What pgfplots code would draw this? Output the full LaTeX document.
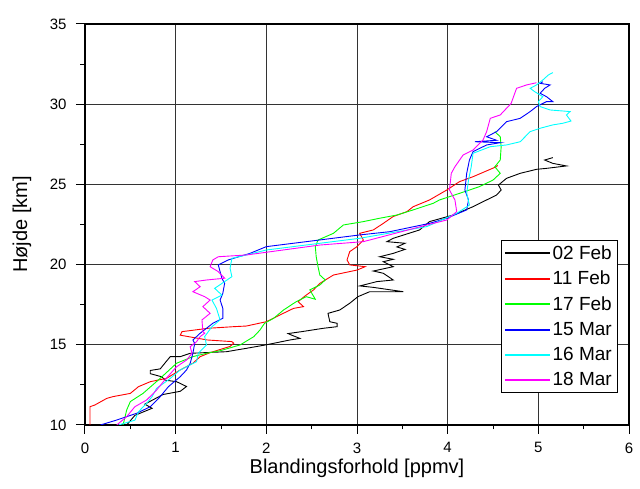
\documentclass[border=0pt]{standalone}
\usepackage{pgfplots}
\pgfplotsset{compat=1.18}
\usepackage{fontspec}
\setmainfont{Liberation Sans}
\definecolor{cblack}{RGB}{0,0,0}
\definecolor{cred}{RGB}{255,0,0}
\definecolor{cgreen}{RGB}{0,255,0}
\definecolor{cblue}{RGB}{0,0,255}
\definecolor{ccyan}{RGB}{0,255,255}
\definecolor{cmag}{RGB}{255,0,255}
\begin{document}
\begin{tikzpicture}
\useasboundingbox (-85pt,-64pt) rectangle (555pt,425pt);
\begin{axis}[
 scale only axis, width=544pt, height=401pt,
 at={(0pt,0pt)}, anchor=south west,
 xmin=0, xmax=6, ymin=10, ymax=35,
 xtick={0,1,2,3,4,5,6}, ytick={10,15,20,25,30,35},
 minor x tick num=1, minor y tick num=1,
 tick pos=left, tick align=outside,
 major tick length=9pt, minor tick length=4.5pt,
 every tick/.style={black, line width=1pt},
 grid=major, major grid style={line width=1pt, color=black!80},
 axis line style={line width=1.4pt},
 ticklabel style={font=\fontsize{15}{18}\selectfont},
 /pgf/number format/assume math mode=true,
 xticklabel shift=5pt, yticklabel shift=6pt,
 xlabel={Blandingsforhold [ppmv]}, ylabel={Højde [km]},
 label style={font=\fontsize{20}{24}\selectfont},
 xlabel style={at={(axis description cs:0.5,-0.108)}, anchor=center},
 ylabel style={at={(axis description cs:-0.116,0.5)}, anchor=center},
 legend style={at={(0.978,0.461)}, anchor=north east, draw=black,
   font=\fontsize{19}{22}\selectfont, row sep=6.4pt, nodes={inner sep=2pt}, inner sep=3pt},
 legend cell align=left,
 legend image code/.code={\draw[mark repeat=2,mark phase=2,#1] plot coordinates {(0pt,0pt) (22pt,0pt) (45pt,0pt)};},
 legend image post style={line width=1.8pt},
 every axis plot/.append style={line width=0.9pt},
]
\addplot[cblack] coordinates {
(0.46,10.0) (0.55,10.6) (0.74,11.04) (0.66,11.3) (0.86,11.9) (1.05,12.1) (1.12,12.4) (1.01,12.7) (0.88,12.8) (0.85,13.0) (0.72,13.2) (0.72,13.4) (0.83,13.5) (0.88,13.85) (0.94,14.26) (1.05,14.26) (1.16,14.47) (1.56,14.57) (1.78,14.78) (2.0,15.0) (2.26,15.3) (2.37,15.4) (2.28,15.6) (2.24,15.7) (2.39,15.82) (2.63,16.03) (2.78,16.13) (2.78,16.34) (2.70,16.44) (2.68,16.96) (2.81,17.17) (2.92,17.59) (3.01,18.0) (3.14,18.31) (3.51,18.31) (3.18,18.58) (3.03,18.67) (3.22,18.94) (3.40,19.04) (3.29,19.46) (3.18,19.60) (3.40,19.87) (3.29,20.18) (3.40,20.33) (3.25,20.49) (3.40,20.7) (3.53,20.95) (3.44,21.1) (3.53,21.33) (3.33,21.43) (3.40,21.64) (3.69,22.16) (3.80,22.68) (4.06,23.09) (4.28,23.61) (4.39,23.92) (4.54,24.34) (4.59,24.65) (4.56,24.96) (4.65,25.38) (4.80,25.69) (4.98,25.94) (5.09,26.0) (5.31,26.15) (5.16,26.31) (5.07,26.52) (5.16,26.67)
};
\addlegendentry{02 Feb}
\addplot[cred] coordinates {
(0.055,10.0) (0.055,11.14) (0.11,11.25) (0.24,11.66) (0.31,11.77) (0.50,11.97) (0.59,12.39) (0.72,12.70) (0.90,12.91) (1.05,13.43) (1.19,13.85) (1.27,14.26) (1.38,14.51) (1.47,14.67) (1.60,14.9) (1.64,15.1) (1.62,15.2) (1.35,15.3) (1.2,15.45) (1.05,15.6) (1.07,15.82) (1.36,16.03) (1.64,16.13) (1.78,16.17) (2.0,16.44) (2.15,16.86) (2.30,17.27) (2.41,17.38) (2.35,17.69) (2.44,18.10) (2.52,18.42) (2.59,18.83) (2.74,19.35) (3.0,19.66) (3.09,19.87) (2.92,19.98) (2.89,20.29) (2.92,20.81) (3.0,21.12) (3.07,21.53) (3.03,21.95) (3.18,22.16) (3.29,22.57) (3.40,23.0) (3.55,23.30) (3.62,23.61) (3.80,24.03) (3.99,24.65) (4.13,25.17) (4.28,25.48) (4.54,26.11) (4.55,26.2)
};
\addlegendentry{11 Feb}
\addplot[cgreen] coordinates {
(0.42,10.0) (0.46,10.94) (0.50,11.46) (0.64,11.97) (0.83,12.91) (1.01,13.85) (1.19,14.26) (1.34,14.47) (1.49,14.63) (1.71,14.99) (1.86,15.5) (1.93,15.92) (1.98,16.34) (2.08,16.65) (2.19,17.17) (2.33,17.69) (2.44,18.0) (2.54,17.84) (2.48,18.42) (2.59,18.73) (2.65,19.04) (2.59,19.35) (2.57,19.87) (2.55,20.49) (2.54,21.12) (2.57,21.53) (2.74,21.95) (2.85,22.47) (3.07,22.68) (3.25,22.89) (3.44,23.09) (3.62,23.41) (3.84,23.82) (3.91,24.03) (4.13,24.44) (4.35,24.86) (4.50,25.27) (4.58,25.69) (4.52,26.1) (4.58,26.52) (4.59,27.35) (4.58,27.97) (4.52,28.29)
};
\addlegendentry{17 Feb}
\addplot[cblue] coordinates {
(0.17,10.0) (0.35,10.31) (0.57,10.73) (0.72,11.14) (0.83,11.77) (0.92,12.39) (1.05,13.01) (1.12,13.43) (1.16,13.85) (1.19,14.47) (1.21,15.09) (1.19,15.30) (1.27,15.72) (1.41,16.34) (1.52,16.65) (1.52,17.27) (1.49,17.79) (1.52,18.21) (1.54,18.83) (1.51,19.15) (1.49,19.56) (1.47,19.98) (1.58,20.29) (1.82,20.70) (2.0,21.12) (2.44,21.43) (3.03,21.85) (3.36,22.05) (3.80,22.57) (3.99,22.89) (4.21,23.41) (4.23,24.03) (4.19,24.65) (4.21,25.69) (4.24,26.52) (4.28,27.04) (4.43,27.46) (4.58,27.6) (4.30,27.66) (4.54,27.75) (4.43,27.97) (4.54,28.29) (4.65,28.91) (4.80,29.12) (4.91,29.54) (4.98,29.85) (5.09,30.16) (5.16,30.16) (5.09,30.47) (5.02,30.68) (5.07,30.99) (5.13,31.2) (5.02,31.3) (5.05,31.4)
};
\addlegendentry{15 Mar}
\addplot[ccyan] coordinates {
(0.37,10.0) (0.55,10.3) (0.59,10.83) (0.68,11.35) (0.74,11.77) (0.79,12.29) (0.92,12.81) (1.05,13.43) (1.23,13.95) (1.25,14.47) (1.34,14.99) (1.32,15.51) (1.40,16.13) (1.49,16.55) (1.45,17.27) (1.40,17.79) (1.51,18.10) (1.43,18.52) (1.54,18.94) (1.62,19.25) (1.60,19.77) (1.62,20.39) (1.78,20.60) (2.0,20.91) (2.59,21.33) (3.03,21.64) (3.77,22.37) (4.10,23.20) (4.24,23.71) (4.21,24.44) (4.23,25.27) (4.26,26.10) (4.28,26.94) (4.47,27.35) (4.65,27.46) (4.80,27.66) (4.91,28.29) (5.02,28.50) (5.16,28.71) (5.27,28.81) (5.36,28.95) (5.31,29.33) (5.35,29.54) (5.13,29.64) (5.02,29.85) (5.0,30.16) (5.05,30.47) (4.96,30.78) (4.91,30.99) (4.98,31.2) (5.05,31.51) (5.11,31.82) (5.16,31.97)
};
\addlegendentry{16 Mar}
\addplot[cmag] coordinates {
(0.35,10.0) (0.46,10.52) (0.55,11.14) (0.68,11.56) (0.79,12.18) (0.88,12.81) (1.01,13.63) (1.12,14.05) (1.18,14.47) (1.16,14.88) (1.23,15.19) (1.27,15.51) (1.32,15.72) (1.30,15.82) (1.29,16.55) (1.38,16.96) (1.30,17.38) (1.38,17.79) (1.32,18.0) (1.19,18.31) (1.27,18.62) (1.21,18.94) (1.34,19.04) (1.54,19.15) (1.47,19.56) (1.38,19.87) (1.41,20.29) (1.47,20.49) (1.78,20.60) (2.59,21.22) (3.07,21.43) (3.84,22.57) (3.99,22.78) (4.10,23.30) (4.08,24.03) (4.02,24.65) (4.04,25.69) (4.08,26.1) (4.17,26.83) (4.28,27.14) (4.39,27.77) (4.43,28.29) (4.47,29.12) (4.58,29.33) (4.70,30.05) (4.74,30.68) (4.76,30.99) (4.87,31.2) (4.98,31.34)
};
\addlegendentry{18 Mar}
\end{axis}
\end{tikzpicture}
\end{document}
